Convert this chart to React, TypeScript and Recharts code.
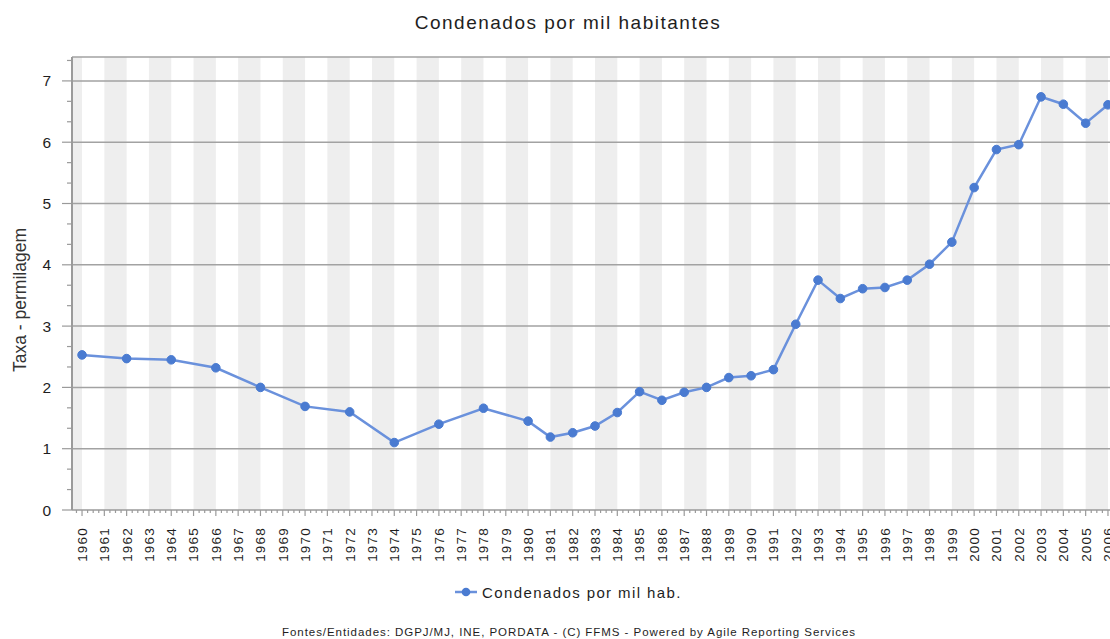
import React from 'react';
import { LineChart, Line, XAxis, YAxis, ReferenceArea, ReferenceLine } from 'recharts';

// anos com valor (até 1980 só anos pares)
const years = [
  1960, 1962, 1964, 1966, 1968, 1970, 1972, 1974, 1976, 1978, 1980,
  1981, 1982, 1983, 1984, 1985, 1986, 1987, 1988, 1989, 1990, 1991,
  1992, 1993, 1994, 1995, 1996, 1997, 1998, 1999, 2000, 2001, 2002,
  2003, 2004, 2005, 2006,
];
const condenados = [
  2.53, 2.47, 2.45, 2.32, 2.0, 1.69, 1.6, 1.1, 1.4, 1.66, 1.45,
  1.19, 1.26, 1.37, 1.59, 1.93, 1.79, 1.92, 2.0, 2.16, 2.19, 2.29,
  3.03, 3.75, 3.45, 3.61, 3.63, 3.75, 4.01, 4.37, 5.26, 5.88, 5.96,
  6.74, 6.62, 6.31, 6.61,
];
const firstYear = 1960;
const lastYear = 2006;
const yMajor = [0, 1, 2, 3, 4, 5, 6, 7];

const X_MIN = 1959.55;
const X_MAX = 2006.45;
const Y_MAX = 7.39;

const TITLE = 'Condenados por mil habitantes';
const Y_LABEL = 'Taxa - permilagem';
const SERIES = 'Condenados por mil hab.';
const FOOTER = 'Fontes/Entidades: DGPJ/MJ, INE, PORDATA - (C) FFMS - Powered by Agile Reporting Services';

const FONT = '"Liberation Sans", Arial, Helvetica, sans-serif';
const TEXT = '#1e1e1e';
const AXIS = '#9a9a9a';
const GRID = '#a2a2a2';
const BAND = '#eeeeee';
const LINE = '#6a91dc';
const DOT = '#4a7bd1';

const data = years.map((year, i) => ({ year, value: condenados[i] }));

// marcas secundárias: quartos de ano no eixo X, terços no eixo Y
const xTicks: number[] = [];
for (let q = (firstYear - 1) * 4 + 3; q <= lastYear * 4 + 1; q++) xTicks.push(q / 4);
const yTicks: number[] = [];
for (let k = 0; k <= 22; k++) yTicks.push(k / 3);

// faixas cinzentas alternadas (ano ímpar -> ano par)
const bands: [number, number][] = [[X_MIN, firstYear]];
for (let y = firstYear + 1; y < lastYear; y += 2) bands.push([y, y + 1]);

const isWhole = (v: number) => Math.abs(v - Math.round(v)) < 1e-6;

const XTick = (props: any) => {
  const { x, y, payload } = props;
  const major = isWhole(payload.value);
  const ty = y + 17;
  return (
    <g>
      <line x1={x} y1={y} x2={x} y2={y + (major ? 6 : 3)} stroke={AXIS} strokeWidth={1.2} />
      {major && (
        <text
          x={x}
          y={ty}
          transform={`rotate(-90, ${x}, ${ty})`}
          textAnchor="end"
          dy="0.36em"
          fontSize={13.5}
          letterSpacing={1.2}
          fill={TEXT}
          fontFamily={FONT}
        >
          {Math.round(payload.value)}
        </text>
      )}
    </g>
  );
};

const YTick = (props: any) => {
  const { x, y, payload } = props;
  const major = isWhole(payload.value);
  return (
    <g>
      <line x1={x - (major ? 10 : 5)} y1={y} x2={x} y2={y} stroke={AXIS} strokeWidth={1.2} />
      {major && (
        <text x={x - 21} y={y} textAnchor="end" dy="0.355em" fontSize={15.5} fill={TEXT} fontFamily={FONT}>
          {Math.round(payload.value)}
        </text>
      )}
    </g>
  );
};

export default function App() {
  return (
    <div style={{ position: 'fixed', left: 0, top: 0, width: 1110, height: 639, overflow: 'hidden', background: '#fff' }}>
      <div style={{ position: 'relative', width: 1136, height: 639 }}>
        <LineChart width={1136} height={639} data={data} margin={{ top: 57, right: 18, bottom: 0, left: 0 }}>
          {bands.map(([a, b]) => (
            <ReferenceArea key={a} x1={a} x2={b} fill={BAND} fillOpacity={1} stroke="none" />
          ))}
          {yMajor.slice(1).map((v) => (
            <ReferenceLine key={v} y={v} stroke={GRID} strokeWidth={1.5} />
          ))}
          <ReferenceLine y={Y_MAX} stroke={GRID} strokeWidth={1.5} />
          <XAxis
            dataKey="year"
            type="number"
            domain={[X_MIN, X_MAX]}
            allowDataOverflow
            ticks={xTicks}
            interval={0}
            tickSize={0}
            tickMargin={0}
            tick={<XTick />}
            height={129}
            axisLine={{ stroke: AXIS, strokeWidth: 1.5 }}
          />
          <YAxis
            type="number"
            domain={[0, Y_MAX]}
            allowDataOverflow
            ticks={yTicks}
            interval={0}
            tickSize={0}
            tickMargin={0}
            tick={<YTick />}
            width={72}
            axisLine={{ stroke: AXIS, strokeWidth: 2 }}
          />
          <Line
            type="linear"
            dataKey="value"
            name={SERIES}
            stroke={LINE}
            strokeWidth={2.5}
            dot={{ r: 4.3, fill: DOT, stroke: DOT, strokeWidth: 1 }}
            isAnimationActive={false}
          />
        </LineChart>
        <svg
          width={1136}
          height={639}
          style={{ position: 'absolute', left: 0, top: 0, pointerEvents: 'none' }}
          fontFamily={FONT}
        >
          <text x={568} y={29} textAnchor="middle" fontSize={19} letterSpacing={1.5} fill={TEXT}>
            {TITLE}
          </text>
          <text
            x={26}
            y={300}
            transform="rotate(-90, 26, 300)"
            textAnchor="middle"
            fontSize={17.5}
            fill="#333"
          >
            {Y_LABEL}
          </text>
          <g>
            <line x1={455} y1={592} x2={477} y2={592} stroke={LINE} strokeWidth={2.5} />
            <circle cx={466} cy={592} r={4.3} fill={DOT} />
            <text x={482} y={597.5} fontSize={15} letterSpacing={1.4} fill={TEXT}>
              {SERIES}
            </text>
          </g>
          <text x={569} y={636} textAnchor="middle" fontSize={11.5} letterSpacing={0.95} fill={TEXT}>
            {FOOTER}
          </text>
        </svg>
      </div>
    </div>
  );
}
